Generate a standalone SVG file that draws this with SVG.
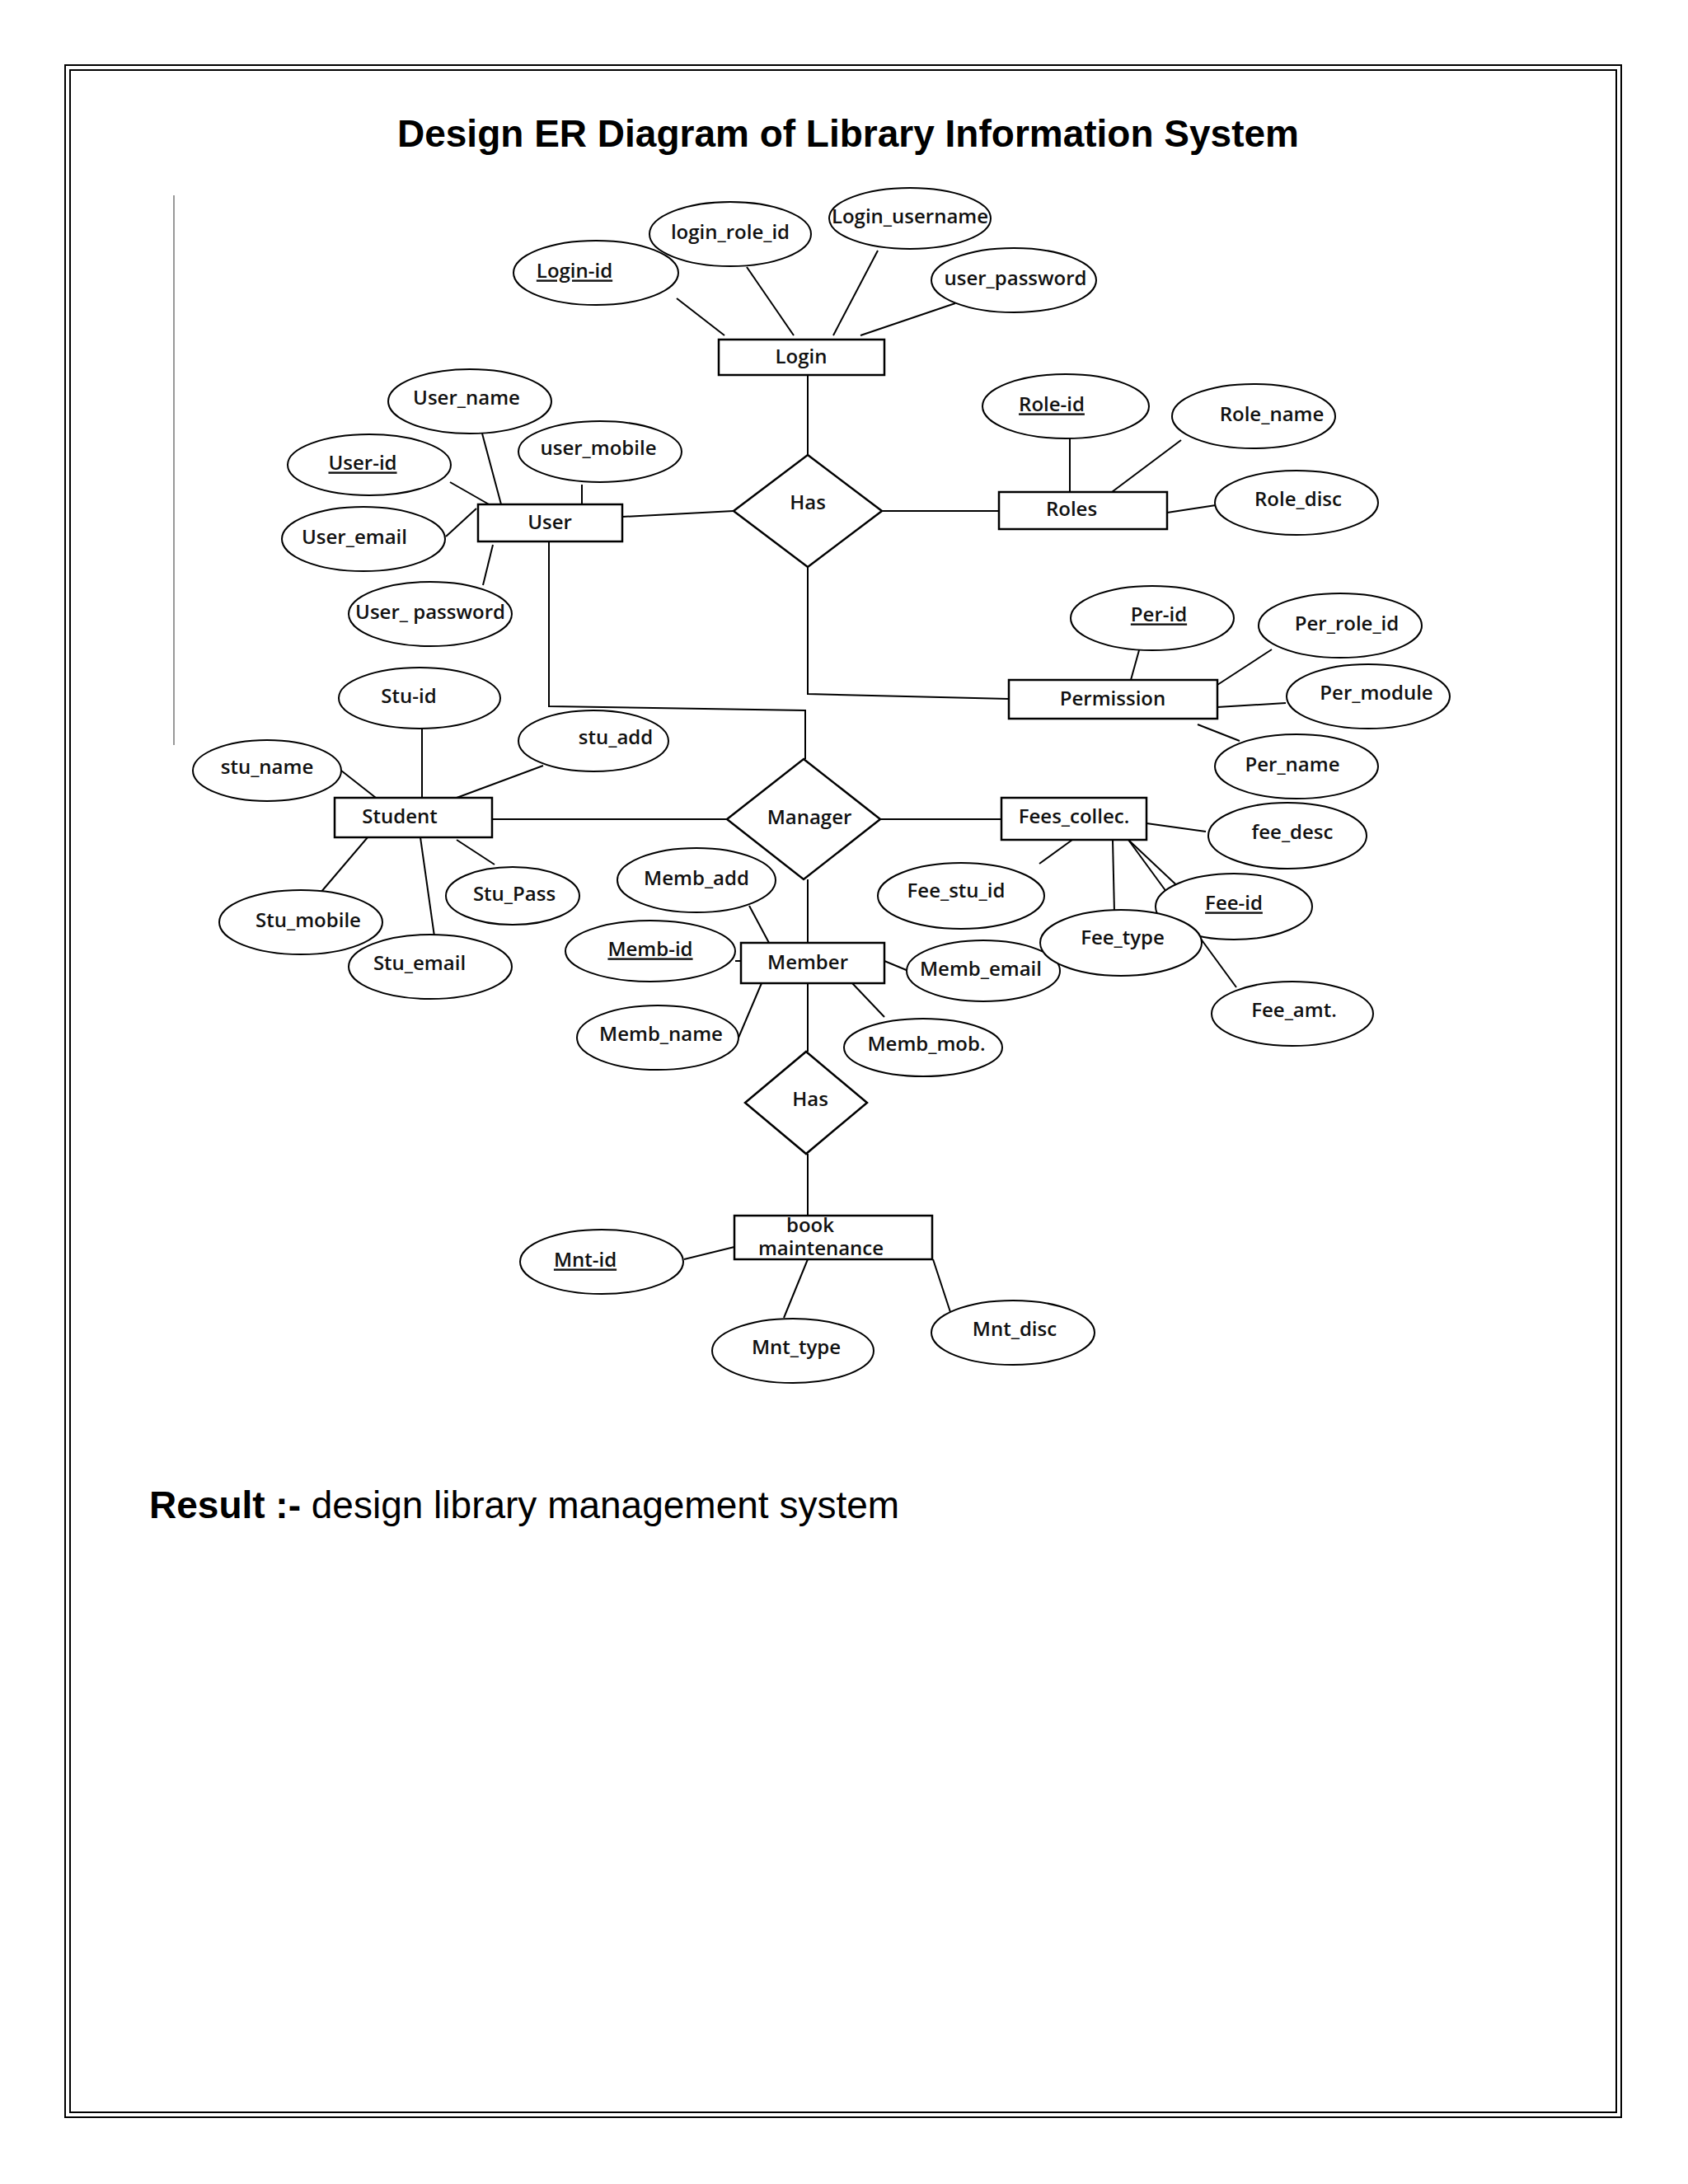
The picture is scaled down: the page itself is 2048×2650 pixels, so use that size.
<svg xmlns="http://www.w3.org/2000/svg" width="2048" height="2650" viewBox="0 0 2048 2650">
<style>
.e{fill:#fff;stroke:#000;stroke-width:2}
.r{fill:#fff;stroke:#000;stroke-width:2.5}
.t{font-family:"Open Sans","DejaVu Sans",sans-serif;font-size:24px;font-weight:600;text-anchor:middle;dominant-baseline:middle;fill:#111}
.u{text-decoration:underline}
#conn line,#conn polyline{stroke:#000;stroke-width:2;fill:none}
</style>
<rect width="2048" height="2650" fill="#fff"/>
<rect x="79" y="79" width="1888" height="2490" fill="none" stroke="#000" stroke-width="2"/>
<rect x="85" y="85" width="1876" height="2478" fill="none" stroke="#000" stroke-width="2"/>
<text x="1029" y="178" font-family="Liberation Sans,Arial,sans-serif" font-size="46" font-weight="bold" text-anchor="middle">Design ER Diagram of Library Information System</text>
<line x1="211" y1="237" x2="211" y2="904" stroke="#999" stroke-width="2"/>
<g id="conn">
<line x1="821" y1="362" x2="879" y2="407"/><line x1="906" y1="324" x2="963" y2="407"/><line x1="1065" y1="304" x2="1011" y2="407"/><line x1="1159" y1="368" x2="1044" y2="407"/>
<line x1="980" y1="455" x2="980" y2="552"/><line x1="755" y1="627" x2="890" y2="620"/><line x1="1070" y1="620" x2="1212" y2="620"/>
<polyline points="980,688 980,842 1224,848"/><polyline points="666,657 666,857 977,862 977,921"/>
<line x1="1298" y1="532" x2="1298" y2="597"/><line x1="1433" y1="534" x2="1349" y2="597"/><line x1="1416" y1="622" x2="1475" y2="613"/>
<line x1="1382" y1="789" x2="1372" y2="825"/><line x1="1543" y1="788" x2="1477" y2="831"/><line x1="1477" y1="858" x2="1560" y2="853"/><line x1="1453" y1="879" x2="1504" y2="899"/>
<line x1="585" y1="526" x2="608" y2="612"/><line x1="546" y1="585" x2="595" y2="613"/><line x1="706" y1="588" x2="706" y2="612"/><line x1="541" y1="651" x2="578" y2="617"/><line x1="598" y1="661" x2="586" y2="710"/>
<line x1="512" y1="884" x2="512" y2="968"/><line x1="659" y1="929" x2="554" y2="968"/><line x1="414" y1="935" x2="456" y2="968"/>
<line x1="597" y1="994" x2="882" y2="994"/><line x1="1068" y1="994" x2="1215" y2="994"/>
<line x1="554" y1="1019" x2="600" y2="1049"/><line x1="446" y1="1016" x2="389" y2="1083"/><line x1="510" y1="1016" x2="527" y2="1136"/>
<line x1="980" y1="1067" x2="980" y2="1144"/><line x1="909" y1="1099" x2="933" y2="1144"/><line x1="892" y1="1166" x2="899" y2="1166"/><line x1="896" y1="1259" x2="924" y2="1193"/><line x1="1073" y1="1166" x2="1102" y2="1178"/><line x1="1034" y1="1193" x2="1073" y2="1234"/>
<line x1="980" y1="1193" x2="980" y2="1276"/><line x1="980" y1="1400" x2="980" y2="1475"/>
<line x1="1391" y1="999" x2="1463" y2="1009"/><line x1="1261" y1="1048" x2="1301" y2="1019"/><line x1="1350" y1="1019" x2="1352" y2="1107"/><line x1="1369" y1="1019" x2="1436" y2="1082"/><line x1="1369" y1="1019" x2="1500" y2="1198"/>
<line x1="830" y1="1528" x2="891" y2="1513"/><line x1="980" y1="1528" x2="951" y2="1599"/><line x1="1132" y1="1528" x2="1154" y2="1595"/>
</g>
<g id="login"><rect class="r" x="872" y="412" width="201" height="43"/><text class="t" x="972" y="435">Login</text></g>
<g id="user"><rect class="r" x="580" y="612" width="175" height="45"/><text class="t" x="667" y="636" font-weight="400">User</text></g>
<g id="roles"><rect class="r" x="1212" y="597" width="204" height="45"/><text class="t" x="1300" y="620">Roles</text></g>
<g id="permission"><rect class="r" x="1224" y="825" width="253" height="47"/><text class="t" x="1350" y="850" font-weight="400">Permission</text></g>
<g id="student"><rect class="r" x="406" y="968" width="191" height="48"/><text class="t" x="485" y="993" font-weight="400">Student</text></g>
<g id="fees"><rect class="r" x="1215" y="968" width="176" height="51"/><text class="t" x="1303" y="993">Fees_collec.</text></g>
<g id="member"><rect class="r" x="899" y="1144" width="174" height="49"/><text class="t" x="980" y="1170">Member</text></g>
<g id="book"><rect class="r" x="891" y="1475" width="240" height="53"/><text class="t" x="983" y="1489" font-size="22">book</text><text class="t" x="996" y="1517" font-size="22">maintenance</text></g>
<g id="has1"><polygon class="r" points="980,552 1070,620 980,688 890,620"/><text class="t" x="980" y="612" font-weight="400">Has</text></g>
<g id="manager"><polygon class="r" points="975,921 1068,994 975,1067 882,994"/><text class="t" x="982" y="994">Manager</text></g>
<g id="has2"><polygon class="r" points="978,1276 1052,1338 978,1400 904,1338"/><text class="t" x="983" y="1336">Has</text></g>
<g id="a1"><ellipse class="e" cx="723" cy="331" rx="100" ry="39"/><text class="t u" x="697" y="331">Login-id</text></g>
<g id="a2"><ellipse class="e" cx="886" cy="284" rx="98" ry="39"/><text class="t" x="886" y="284">login_role_id</text></g>
<g id="a3"><ellipse class="e" cx="1104" cy="265" rx="98" ry="37"/><text class="t" x="1104" y="265" font-size="22">Login_username</text></g>
<g id="a4"><ellipse class="e" cx="1230" cy="340" rx="100" ry="39"/><text class="t" x="1232" y="340">user_password</text></g>
<g id="a5"><ellipse class="e" cx="570" cy="487" rx="99" ry="39"/><text class="t" x="566" y="485">User_name</text></g>
<g id="a6"><ellipse class="e" cx="448" cy="564" rx="99" ry="37"/><text class="t u" x="440" y="564">User-id</text></g>
<g id="a7"><ellipse class="e" cx="728" cy="548" rx="99" ry="37"/><text class="t" x="726" y="546">user_mobile</text></g>
<g id="a8"><ellipse class="e" cx="441" cy="654" rx="99" ry="39"/><text class="t" x="430" y="654">User_email</text></g>
<g id="a9"><ellipse class="e" cx="522" cy="745" rx="99" ry="39"/><text class="t" x="522" y="745">User_ password</text></g>
<g id="a10"><ellipse class="e" cx="1293" cy="493" rx="101" ry="39"/><text class="t u" x="1276" y="493">Role-id</text></g>
<g id="a11"><ellipse class="e" cx="1521" cy="505" rx="99" ry="39"/><text class="t" x="1543" y="505">Role_name</text></g>
<g id="a12"><ellipse class="e" cx="1573" cy="610" rx="99" ry="39"/><text class="t" x="1575" y="608">Role_disc</text></g>
<g id="a13"><ellipse class="e" cx="1398" cy="750" rx="99" ry="39"/><text class="t u" x="1406" y="748">Per-id</text></g>
<g id="a14"><ellipse class="e" cx="1626" cy="759" rx="99" ry="39"/><text class="t" x="1634" y="759">Per_role_id</text></g>
<g id="a15"><ellipse class="e" cx="1660" cy="845" rx="99" ry="39"/><text class="t" x="1670" y="843">Per_module</text></g>
<g id="a16"><ellipse class="e" cx="1573" cy="930" rx="99" ry="39"/><text class="t" x="1568" y="930">Per_name</text></g>
<g id="a17"><ellipse class="e" cx="509" cy="847" rx="98" ry="37"/><text class="t" x="496" y="847" font-weight="400">Stu-id</text></g>
<g id="a18"><ellipse class="e" cx="720" cy="899" rx="91" ry="37"/><text class="t" x="747" y="897" font-weight="400">stu_add</text></g>
<g id="a19"><ellipse class="e" cx="324" cy="935" rx="90" ry="37"/><text class="t" x="324" y="933" font-weight="400">stu_name</text></g>
<g id="a20"><ellipse class="e" cx="622" cy="1087" rx="81" ry="35"/><text class="t" x="624" y="1087" font-weight="400">Stu_Pass</text></g>
<g id="a21"><ellipse class="e" cx="365" cy="1119" rx="99" ry="39"/><text class="t" x="374" y="1119" font-weight="400">Stu_mobile</text></g>
<g id="a22"><ellipse class="e" cx="522" cy="1173" rx="99" ry="39"/><text class="t" x="509" y="1171" font-weight="400">Stu_email</text></g>
<g id="a23"><ellipse class="e" cx="845" cy="1068" rx="96" ry="39"/><text class="t" x="845" y="1068" font-size="26">Memb_add</text></g>
<g id="a24"><ellipse class="e" cx="789" cy="1154" rx="103" ry="37"/><text class="t u" x="789" y="1154" font-size="26">Memb-id</text></g>
<g id="a25"><ellipse class="e" cx="798" cy="1259" rx="98" ry="39"/><text class="t" x="802" y="1257" font-size="26">Memb_name</text></g>
<g id="a26"><ellipse class="e" cx="1193" cy="1178" rx="93" ry="37"/><text class="t" x="1190" y="1178" font-size="26">Memb_email</text></g>
<g id="a27"><ellipse class="e" cx="1120" cy="1271" rx="96" ry="35"/><text class="t" x="1124" y="1269" font-size="26">Memb_mob.</text></g>
<g id="a28"><ellipse class="e" cx="1166" cy="1087" rx="101" ry="40"/><text class="t" x="1160" y="1083" font-size="26">Fee_stu_id</text></g>
<g id="a29"><ellipse class="e" cx="1562" cy="1014" rx="96" ry="40"/><text class="t" x="1568" y="1012" font-size="26">fee_desc</text></g>
<g id="a30"><ellipse class="e" cx="1497" cy="1100" rx="95" ry="40"/><text class="t u" x="1497" y="1098" font-size="26">Fee-id</text></g>
<g id="a31"><ellipse class="e" cx="1360" cy="1144" rx="98" ry="40"/><text class="t" x="1362" y="1140" font-size="26">Fee_type</text></g>
<g id="a32"><ellipse class="e" cx="1568" cy="1230" rx="98" ry="39"/><text class="t" x="1570" y="1228" font-size="26">Fee_amt.</text></g>
<g id="a33"><ellipse class="e" cx="730" cy="1531" rx="99" ry="39"/><text class="t u" x="710" y="1531">Mnt-id</text></g>
<g id="a34"><ellipse class="e" cx="962" cy="1639" rx="98" ry="39"/><text class="t" x="966" y="1637" font-size="26">Mnt_type</text></g>
<g id="a35"><ellipse class="e" cx="1229" cy="1617" rx="99" ry="39"/><text class="t" x="1231" y="1615" font-size="26">Mnt_disc</text></g>
<text x="181" y="1842" font-family="Liberation Sans,Arial,sans-serif" font-size="46"><tspan font-weight="bold">Result :- </tspan>design library management system</text>
</svg>
